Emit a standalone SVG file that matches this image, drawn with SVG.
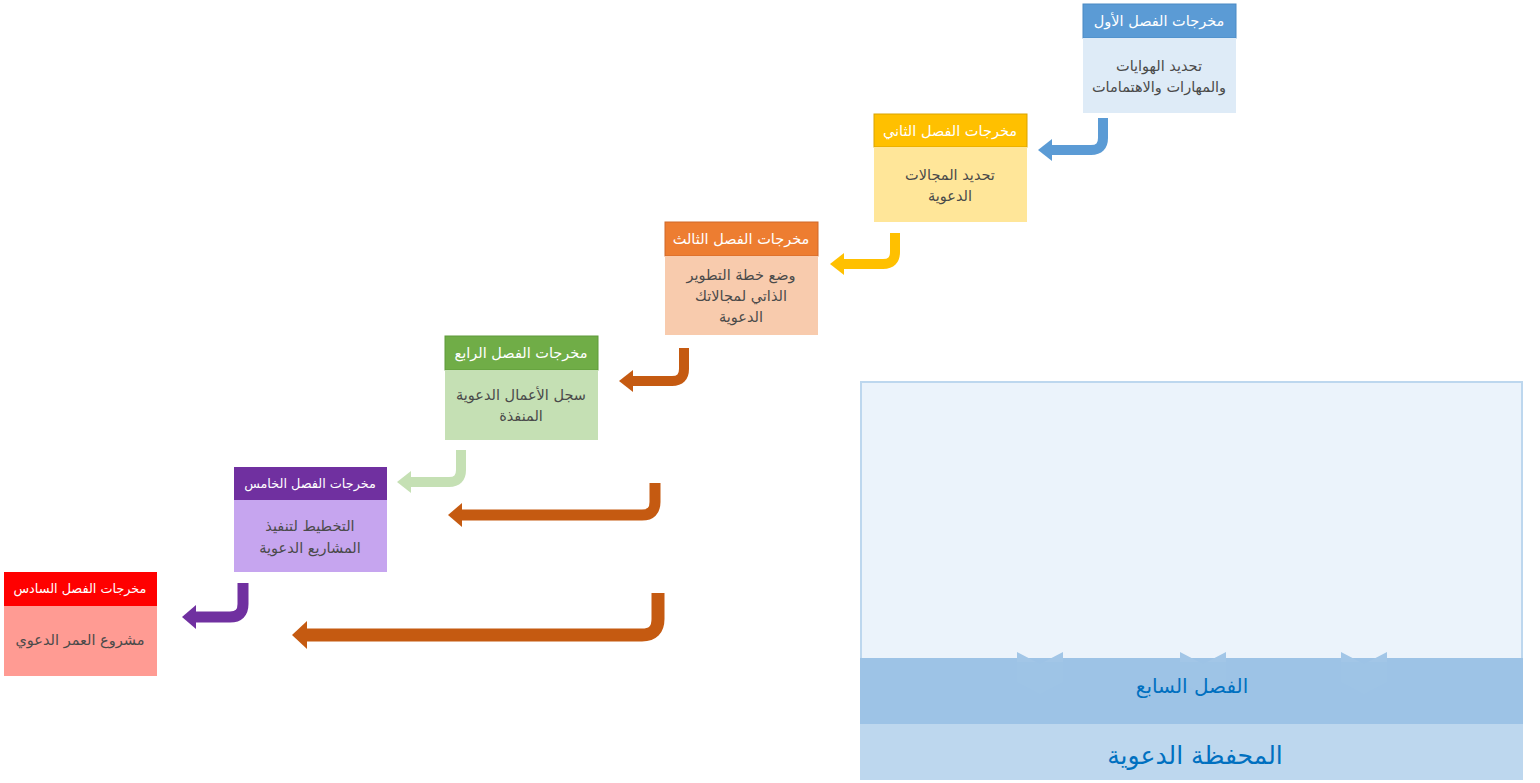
<svg xmlns="http://www.w3.org/2000/svg" width="1540" height="783" viewBox="0 0 1540 783">
<style>
text{font-family:"DejaVu Sans","Noto Sans",sans-serif;text-anchor:middle;direction:rtl}
.h{fill:#ffffff;font-size:14.5px}
.hs{fill:#ffffff;font-size:12.8px}
.b{fill:#4a4a4a;font-size:14.5px}
.a{fill:none;stroke-linecap:butt;stroke-linejoin:round}
</style>
<rect width="1540" height="783" fill="#ffffff"/>
<g id="panel">
<rect x="861" y="382" width="661" height="308" fill="#EBF3FB" stroke="#BDD7EE" stroke-width="2"/>
<rect x="860" y="658" width="663" height="66" fill="#9DC3E6"/>
<polygon points="1017,652 1040,664 1063,652 1063,682 1040,694 1017,682" fill="#A2C6E7"/>
<polygon points="1180,652 1203,664 1226,652 1226,682 1203,694 1180,682" fill="#A2C6E7"/>
<polygon points="1341,652 1364,664 1387,652 1387,682 1364,694 1341,682" fill="#A2C6E7"/>
<rect x="860" y="662" width="663" height="62" fill="#9DC3E6" opacity="0.7"/>
<text x="1192" y="693" style="fill:#0070C0;font-size:20px">الفصل السابع</text>
<rect x="860" y="724" width="663" height="56" fill="#BDD7EE"/>
<text x="1195" y="764" style="fill:#0070C0;font-size:25px">المحفظة الدعوية</text>
</g>
<g id="node1">
<rect x="1083" y="4" width="153" height="34" fill="#5B9BD5" stroke="#4A8AC4" stroke-width="1"/>
<rect x="1083" y="38" width="153" height="75" fill="#DEEBF7"/>
<text class="h" x="1159" y="26">مخرجات الفصل الأول</text>
<text class="b" x="1159" y="71">تحديد الهوايات</text>
<text class="b" x="1159" y="92">والمهارات والاهتمامات</text>
</g>
<g id="node2">
<rect x="874" y="114" width="153" height="33" fill="#FFC000" stroke="#D9A300" stroke-width="1"/>
<rect x="874" y="147" width="153" height="75" fill="#FFE699"/>
<text class="h" x="950" y="136">مخرجات الفصل الثاني</text>
<text class="b" x="950" y="180">تحديد المجالات</text>
<text class="b" x="950" y="201">الدعوية</text>
</g>
<g id="node3">
<rect x="665" y="222" width="153" height="34" fill="#ED7D31" stroke="#D0692A" stroke-width="1"/>
<rect x="665" y="256" width="153" height="79" fill="#F8CBAD"/>
<text class="h" x="741" y="244">مخرجات الفصل الثالث</text>
<text class="b" x="741" y="280">وضع خطة التطوير</text>
<text class="b" x="741" y="301">الذاتي لمجالاتك</text>
<text class="b" x="741" y="322">الدعوية</text>
</g>
<g id="node4">
<rect x="445" y="336" width="153" height="34" fill="#70AD47" stroke="#5E9A3A" stroke-width="1"/>
<rect x="445" y="370" width="153" height="70" fill="#C5E0B4"/>
<text class="h" x="521" y="358">مخرجات الفصل الرابع</text>
<text class="b" x="521" y="400">سجل الأعمال الدعوية</text>
<text class="b" x="521" y="421">المنفذة</text>
</g>
<g id="node5">
<rect x="234" y="467" width="153" height="33" fill="#7030A0"/>
<rect x="234" y="500" width="153" height="72" fill="#C6A5EF"/>
<text class="hs" x="310" y="488">مخرجات الفصل الخامس</text>
<text class="b" x="310" y="531">التخطيط لتنفيذ</text>
<text class="b" x="310" y="553">المشاريع الدعوية</text>
</g>
<g id="node6">
<rect x="4" y="572" width="153" height="34" fill="#FF0000"/>
<rect x="4" y="606" width="153" height="70" fill="#FF9B93"/>
<text class="hs" x="80" y="593">مخرجات الفصل السادس</text>
<text class="b" x="80" y="645">مشروع العمر الدعوي</text>
</g>
<g id="connectors">
<path class="a" d="M1103,118 V138 Q1103,150 1091,150 H1050" stroke="#5B9BD5" stroke-width="10"/>
<polygon points="1038,150 1052,139 1052,161" fill="#5B9BD5"/>
<path class="a" d="M895,233 V252 Q895,264 883,264 H842" stroke="#FFC000" stroke-width="10"/>
<polygon points="830,264 844,253 844,275" fill="#FFC000"/>
<path class="a" d="M684,348 V369 Q684,381 672,381 H631" stroke="#C55A11" stroke-width="10"/>
<polygon points="619,381 633,370 633,392" fill="#C55A11"/>
<path class="a" d="M461,450 V470 Q461,482 449,482 H409" stroke="#C5E0B4" stroke-width="10"/>
<polygon points="397,482 411,471 411,493" fill="#C5E0B4"/>
<path class="a" d="M655,483 V502 Q655,515 642,515 H460" stroke="#C55A11" stroke-width="11"/>
<polygon points="448,515 462,503 462,527" fill="#C55A11"/>
<path class="a" d="M243,583 V604 Q243,617 230,617 H194" stroke="#7030A0" stroke-width="11"/>
<polygon points="182,617 196,605 196,629" fill="#7030A0"/>
<path class="a" d="M658,593 V619 Q658,635 642,635 H306" stroke="#C55A11" stroke-width="13"/>
<polygon points="292,635 307,621 307,649" fill="#C55A11"/>
</g>
</svg>
